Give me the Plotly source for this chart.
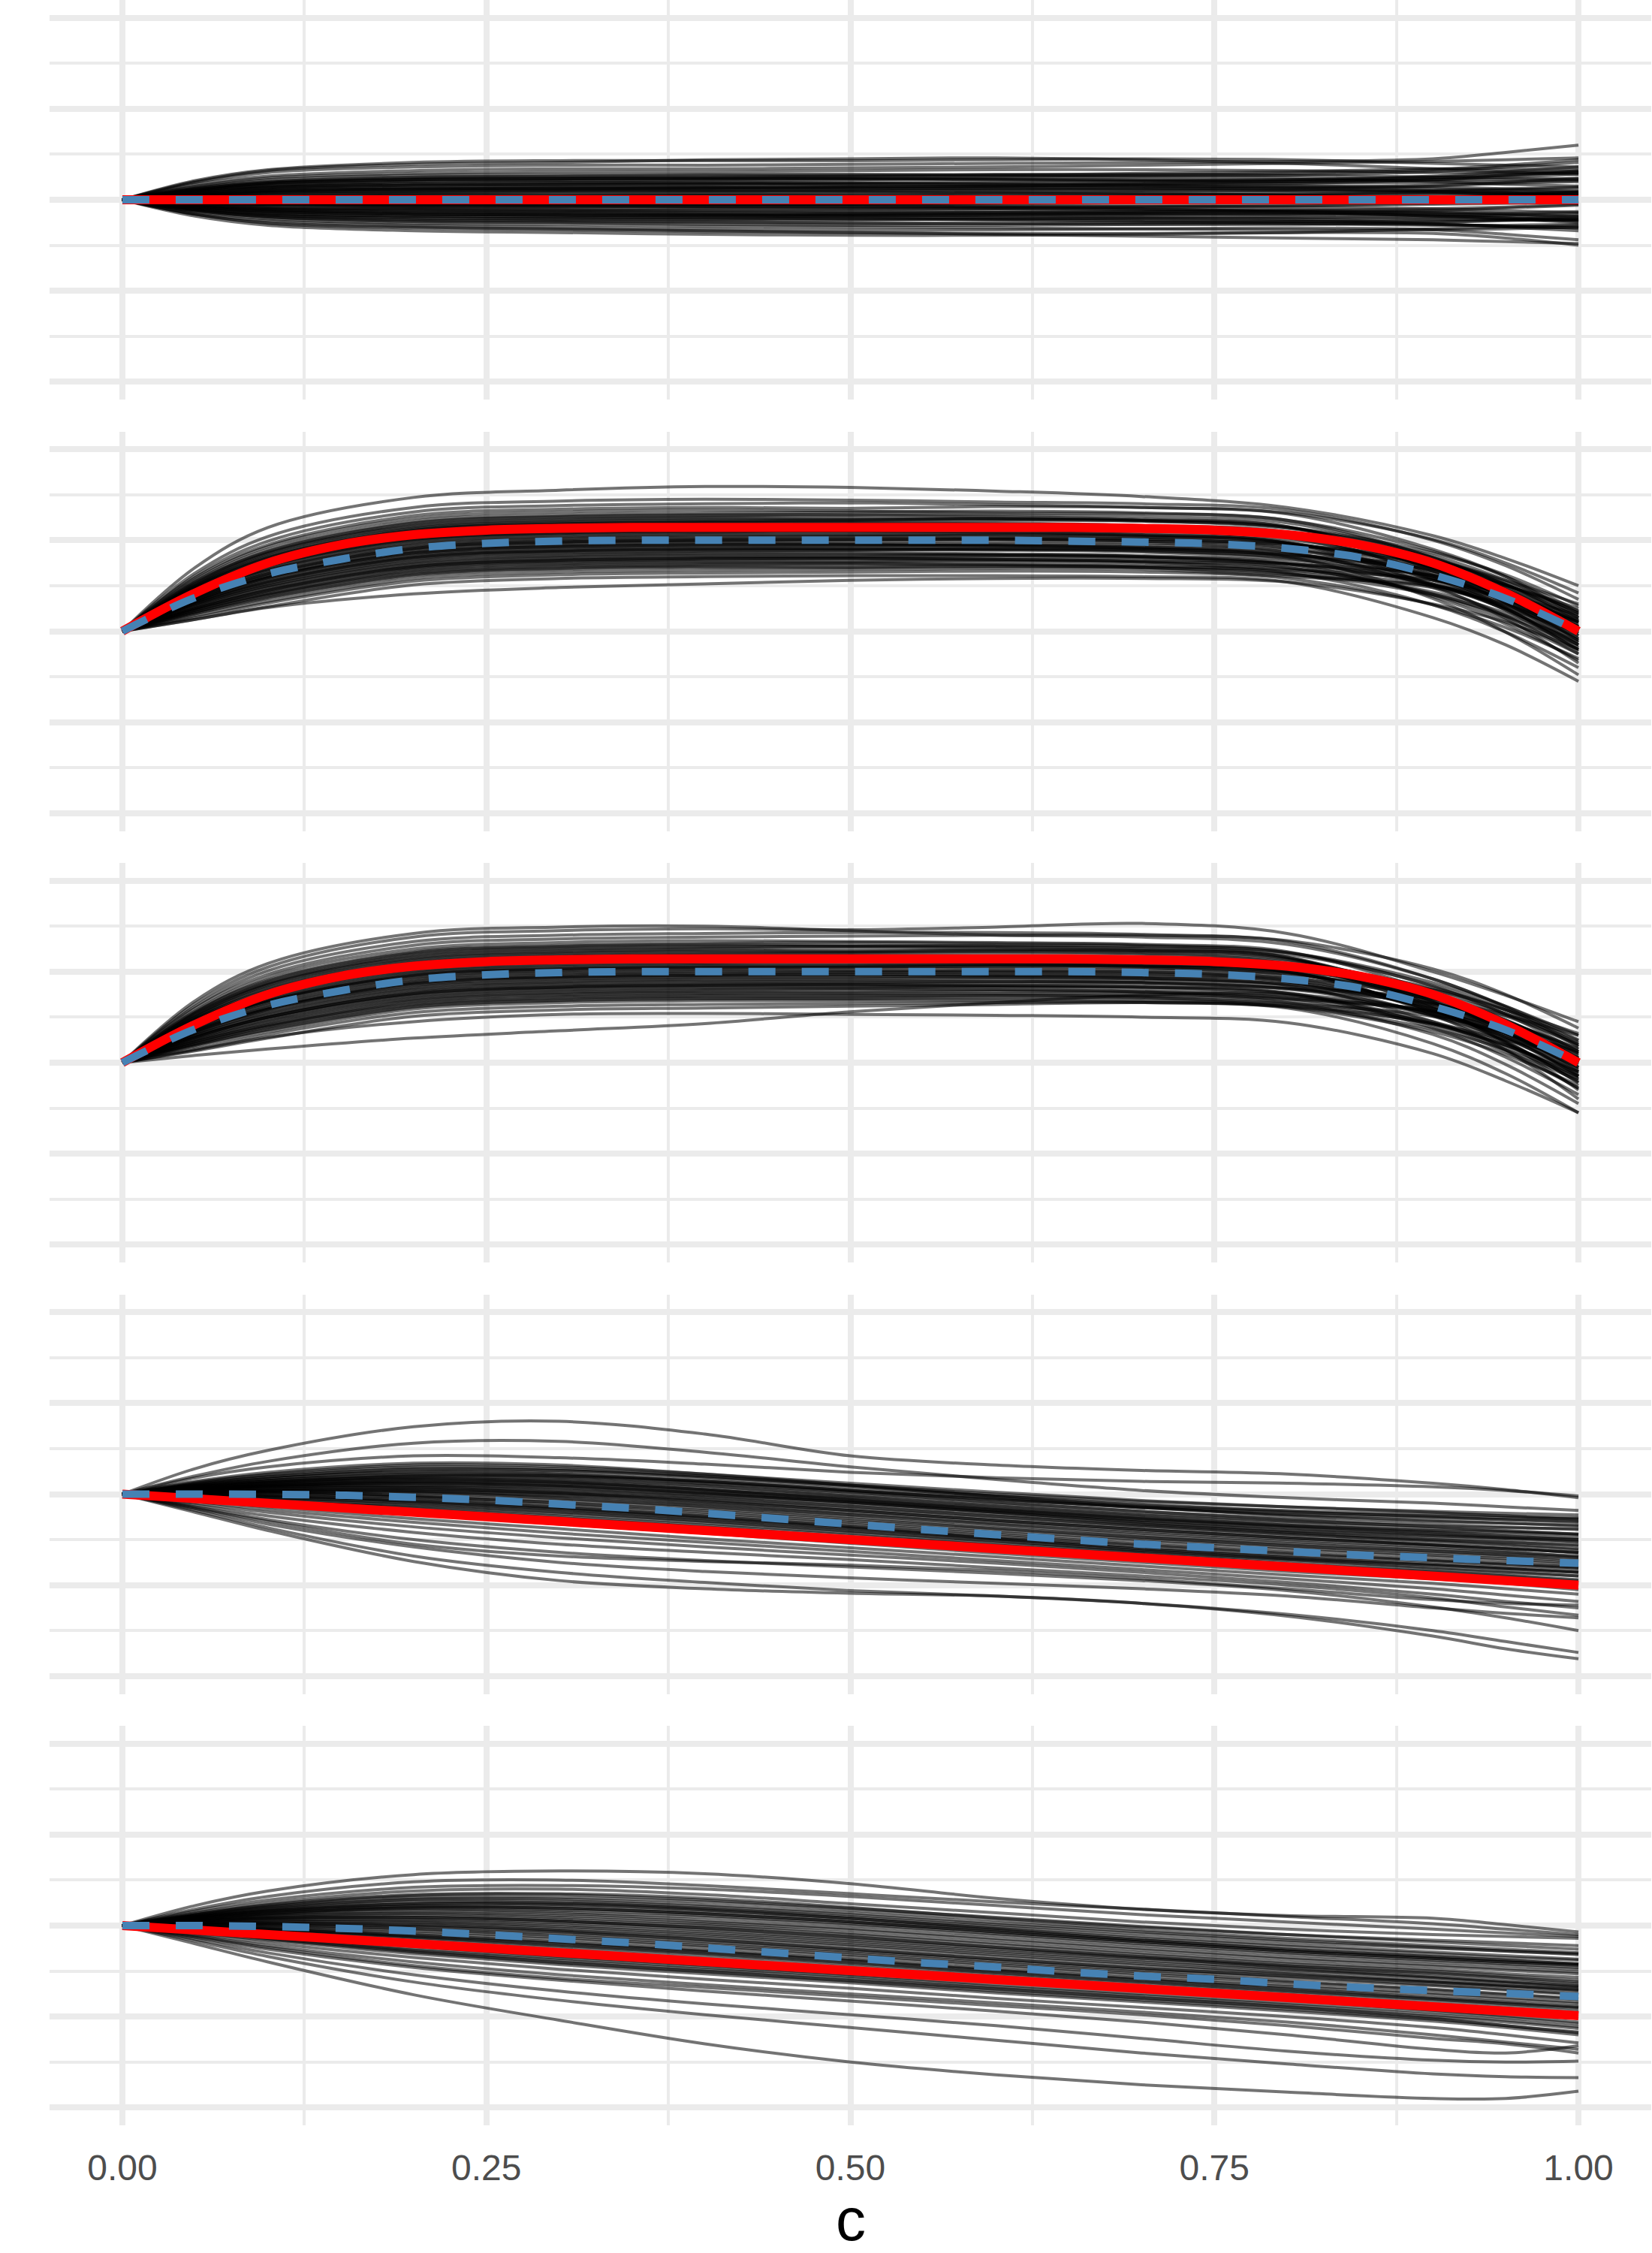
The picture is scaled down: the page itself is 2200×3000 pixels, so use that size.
import plotly.graph_objects as go
from plotly.subplots import make_subplots

# ---------------- data ----------------
X_CURVE = [0, .05, .1, .2, .3, .4, .5, .6, .7, .8, .9, .95, 1]
X_FINE = [0, .05, .1, .15, .2, .25, .3, .35, .4, .45, .5, .55, .6, .65, .7, .75, .8, .85, .9, .95, 1]
X_ENDS = [0, 1]

TICK_VALS = [0, 0.25, 0.5, 0.75, 1]
TICK_TEXT = ["0.00", "0.25", "0.50", "0.75", "1.00"]
X_TITLE = "c"

# panel 1
P1_CURVES = [
    [0, .19, .30, .36, .38, .38, .39, .40, .41, .42, .45, .52, .60],
    [0, .21, .33, .41, .43, .43, .43, .44, .45, .44, .40, .38, .36],
    [0, .17, .26, .32, .34, .34, .35, .36, .38, .40, .42, .44, .46],
    [0, .15, .24, .29, .31, .31, .32, .33, .33, .32, .30, .30, .31],
    [0, .14, .22, .27, .28, .28, .28, .27, .26, .27, .31, .36, .41],
    [0, .12, .19, .24, .25, .25, .26, .27, .29, .31, .34, .34, .33],
    [0, .11, .18, .22, .23, .23, .23, .22, .21, .20, .22, .25, .28],
    [0, .10, .16, .20, .21, .21, .22, .24, .25, .24, .20, .17, .15],
    [0, .09, .15, .18, .19, .19, .19, .18, .17, .18, .22, .27, .32],
    [0, .08, .13, .16, .17, .17, .18, .19, .20, .21, .22, .22, .22],
    [0, .07, .12, .14, .15, .15, .15, .14, .14, .15, .14, .12, .10],
    [0, .06, .10, .12, .13, .13, .14, .15, .16, .15, .12, .10, .08],
    [0, .05, .08, .10, .11, .11, .11, .10, .10, .11, .15, .19, .24],
    [0, .04, .07, .08, .09, .09, .10, .11, .11, .10, .08, .06, .05],
    [0, .03, .05, .06, .06, .06, .06, .07, .08, .09, .10, .12, .14],
    [0, .02, .03, .04, .04, .05, .05, .04, .03, .02, .01, .00, -.02],
    [0, .01, .02, .02, .02, .02, .02, .03, .04, .05, .07, .08, .09],
    [0, -.01, -.02, -.02, -.02, -.02, -.03, -.03, -.02, -.01, .02, .05, .08],
    [0, -.02, -.04, -.05, -.05, -.05, -.05, -.06, -.07, -.08, -.10, -.12, -.14],
    [0, -.04, -.06, -.08, -.08, -.08, -.09, -.09, -.08, -.07, -.05, -.04, -.03],
    [0, -.05, -.09, -.10, -.11, -.12, -.12, -.12, -.13, -.14, -.17, -.20, -.24],
    [0, -.06, -.10, -.12, -.13, -.14, -.15, -.16, -.16, -.15, -.12, -.09, -.06],
    [0, -.07, -.12, -.14, -.15, -.16, -.17, -.17, -.18, -.19, -.21, -.22, -.22],
    [0, -.08, -.13, -.16, -.17, -.18, -.18, -.17, -.16, -.16, -.18, -.21, -.25],
    [0, -.09, -.15, -.18, -.19, -.20, -.21, -.22, -.23, -.24, -.24, -.23, -.21],
    [0, -.10, -.16, -.20, -.21, -.22, -.22, -.21, -.20, -.21, -.26, -.30, -.34],
    [0, -.11, -.18, -.22, -.23, -.24, -.25, -.26, -.27, -.27, -.25, -.22, -.18],
    [0, -.12, -.19, -.24, -.25, -.27, -.28, -.28, -.27, -.26, -.27, -.29, -.31],
    [0, -.13, -.21, -.26, -.27, -.29, -.30, -.31, -.32, -.33, -.33, -.32, -.30],
    [0, -.15, -.23, -.28, -.30, -.32, -.33, -.33, -.32, -.31, -.33, -.38, -.44],
    [0, -.16, -.26, -.31, -.33, -.35, -.36, -.37, -.37, -.36, -.37, -.42, -.50],
    [0, -.18, -.28, -.34, -.36, -.38, -.39, -.39, -.38, -.36, -.32, -.30, -.28],
    [0, .20, .32, .39, .41, .44, .45, .46, .44, .40, .34, .31, .28],
    [0, -.16, -.25, -.30, -.32, -.34, -.36, -.38, -.40, -.42, -.44, -.46, -.48],
    [0, .11, .18, .22, .23, .24, .25, .26, .27, .29, .33, .38, .44],
    [0, -.03, -.05, -.06, -.06, -.07, -.07, -.08, -.10, -.13, -.18, -.20, -.22],
    [0, .05, .08, .09, .10, .10, .09, .08, .07, .05, .02, .00, -.03],
    [0, -.04, -.06, -.07, -.07, -.06, -.05, -.04, -.03, -.02, -.01, .01, .03],
    [0, .09, .14, .17, .18, .18, .17, .16, .15, .13, .10, .08, .05],
    [0, -.08, -.13, -.16, -.17, -.17, -.16, -.15, -.14, -.12, -.10, -.08, -.05],
]
P1_CORE = [
    [0, .13, .20, .25, .26, .27, .27, .28, .28, .27, .25, .24, .23],
    [0, .10, .16, .20, .21, .22, .23, .22, .21, .22, .25, .28, .30],
    [0, .08, .13, .16, .17, .18, .18, .17, .18, .20, .24, .27, .30],
    [0, .07, .11, .13, .14, .14, .13, .12, .12, .13, .16, .18, .20],
    [0, .05, .09, .11, .12, .12, .12, .13, .13, .12, .09, .07, .05],
    [0, .04, .06, .07, .08, .08, .08, .07, .06, .06, .06, .07, .08],
    [0, .03, .04, .05, .05, .05, .04, .04, .05, .06, .09, .11, .13],
    [0, .01, .01, .01, .01, .00, .00, .00, .01, .01, .00, -.02, -.04],
    [0, -.01, -.02, -.03, -.03, -.03, -.02, -.01, .00, .01, .03, .05, .07],
    [0, -.02, -.04, -.04, -.04, -.05, -.06, -.07, -.07, -.06, -.04, -.03, -.02],
    [0, -.03, -.05, -.06, -.07, -.08, -.08, -.09, -.10, -.11, -.13, -.15, -.18],
    [0, -.05, -.08, -.09, -.10, -.10, -.10, -.10, -.11, -.12, -.15, -.18, -.21],
    [0, -.06, -.09, -.11, -.12, -.12, -.13, -.14, -.15, -.16, -.16, -.15, -.13],
    [0, -.07, -.11, -.13, -.14, -.15, -.15, -.14, -.13, -.13, -.14, -.16, -.19],
    [0, -.08, -.12, -.15, -.16, -.17, -.18, -.19, -.20, -.20, -.19, -.17, -.15],
    [0, -.10, -.15, -.18, -.19, -.19, -.19, -.20, -.21, -.23, -.27, -.29, -.31],
    [0, -.11, -.17, -.20, -.21, -.21, -.21, -.22, -.24, -.26, -.28, -.28, -.27],
    [0, .06, .10, .12, .12, .13, .14, .15, .17, .18, .19, .20, .21],
    [0, .12, .19, .23, .24, .24, .24, .23, .22, .22, .26, .31, .36],
    [0, -.12, -.19, -.23, -.24, -.25, -.26, -.26, -.25, -.24, -.22, -.22, -.22],
]
P1_RED = [0, 0]
P1_BLUE = [0, 0]

# panel 2
P2_CURVES = [
    [0, .70, 1.14, 1.47, 1.55, 1.59, 1.58, 1.54, 1.48, 1.36, 1.05, .80, .50],
    [0, .64, 1.04, 1.36, 1.43, 1.45, 1.44, 1.42, 1.40, 1.33, 1.00, .72, .35],
    [0, .61, .99, 1.31, 1.38, 1.40, 1.41, 1.39, 1.36, 1.29, .90, .60, .15],
    [0, .59, .95, 1.27, 1.34, 1.36, 1.35, 1.37, 1.36, 1.30, 1.01, .75, .42],
    [0, .57, .93, 1.24, 1.31, 1.33, 1.32, 1.30, 1.29, 1.22, .81, .48, .05],
    [0, .55, .90, 1.21, 1.28, 1.30, 1.31, 1.32, 1.30, 1.22, .88, .60, .22],
    [0, .53, .87, 1.18, 1.25, 1.27, 1.28, 1.26, 1.23, 1.15, .70, .36, -.10],
    [0, .51, .85, 1.15, 1.22, 1.24, 1.23, 1.24, 1.22, 1.14, .80, .52, .12],
    [0, .50, .82, 1.12, 1.19, 1.21, 1.22, 1.22, 1.21, 1.14, .86, .62, .28],
    [0, .48, .79, 1.09, 1.16, 1.18, 1.18, 1.17, 1.15, 1.08, .69, .37, -.05],
    [0, .46, .77, 1.06, 1.13, 1.15, 1.16, 1.16, 1.14, 1.06, .74, .46, .08],
    [0, .44, .74, 1.03, 1.10, 1.12, 1.11, 1.12, 1.11, 1.04, .78, .54, .20],
    [0, .42, .71, 1.00, 1.07, 1.09, 1.10, 1.09, 1.06, .98, .58, .25, -.18],
    [0, .41, .68, .97, 1.04, 1.06, 1.06, 1.07, 1.05, .97, .66, .38, .02],
    [0, .39, .66, .94, 1.01, 1.03, 1.04, 1.03, 1.01, .95, .71, .47, .14],
    [0, .37, .63, .91, .98, 1.00, 1.00, 1.01, .99, .91, .58, .30, -.08],
    [0, .35, .60, .88, .95, .97, .96, .96, .95, .87, .48, .17, -.25],
    [0, .33, .58, .85, .92, .94, .94, .95, .93, .85, .62, .35, .05],
    [0, .32, .55, .82, .89, .91, .91, .90, .88, .80, .51, .24, -.12],
    [0, .30, .52, .79, .86, .88, .89, .89, .87, .79, .61, .40, .10],
    [0, .28, .50, .76, .83, .85, .85, .84, .82, .74, .38, .08, -.32],
    [0, .26, .47, .73, .80, .82, .82, .83, .81, .73, .52, .26, -.02],
    [0, .24, .44, .70, .77, .79, .80, .79, .77, .70, .41, .16, -.20],
    [0, .23, .41, .67, .74, .76, .76, .77, .75, .67, .50, .30, .00],
    [0, .21, .39, .64, .71, .73, .74, .73, .71, .64, .29, -.01, -.40],
    [0, .19, .36, .61, .68, .70, .70, .71, .70, .63, .40, .17, -.15],
    [0, .17, .33, .58, .65, .67, .68, .69, .68, .60, .50, .35, .10],
    [0, .15, .31, .55, .62, .64, .65, .66, .65, .58, .29, .04, -.30],
    [0, .13, .27, .51, .58, .60, .61, .61, .60, .54, .15, -.15, -.55],
    [0, .13, .26, .41, .48, .52, .56, .58, .58, .54, .30, .10, -.20],
    [0, .43, .72, 1.01, 1.08, 1.10, 1.10, 1.09, 1.06, .97, .50, .14, -.35],
    [0, .31, .54, .81, .88, .90, .90, .91, .90, .84, .70, .50, .25],
    [0, .49, .81, 1.11, 1.18, 1.20, 1.20, 1.19, 1.16, 1.07, .61, .26, -.22],
    [0, .25, .45, .71, .78, .80, .80, .81, .80, .74, .61, .40, .18],
    [0, .37, .63, .91, .98, 1.00, 1.01, 1.02, 1.01, .95, .78, .56, .30],
    [0, .34, .59, .86, .93, .95, .95, .94, .91, .82, .36, -.01, -.48],
]
P2_CORE = [
    [0, .54, .88, 1.19, 1.26, 1.28, 1.28, 1.28, 1.26, 1.19, .81, .51, .10],
    [0, .52, .86, 1.16, 1.23, 1.25, 1.25, 1.24, 1.22, 1.15, .67, .31, -.15],
    [0, .50, .83, 1.13, 1.20, 1.22, 1.22, 1.23, 1.21, 1.13, .83, .56, .20],
    [0, .48, .80, 1.10, 1.17, 1.19, 1.19, 1.18, 1.16, 1.09, .71, .40, -.02],
    [0, .47, .77, 1.07, 1.14, 1.16, 1.17, 1.17, 1.15, 1.07, .78, .51, .15],
    [0, .45, .75, 1.04, 1.11, 1.13, 1.13, 1.12, 1.10, 1.03, .64, .32, -.10],
    [0, .43, .72, 1.01, 1.08, 1.10, 1.10, 1.11, 1.09, 1.01, .70, .42, .05],
    [0, .41, .69, .98, 1.05, 1.07, 1.07, 1.06, 1.04, .97, .56, .23, -.20],
    [0, .39, .67, .95, 1.02, 1.04, 1.04, 1.05, 1.03, .96, .73, .51, .18],
    [0, .38, .64, .92, .99, 1.01, 1.01, 1.01, .99, .92, .60, .33, -.05],
    [0, .36, .61, .89, .96, .98, .98, .99, .97, .89, .66, .43, .10],
    [0, .34, .59, .86, .93, .95, .95, .94, .92, .86, .52, .24, -.15],
    [0, .32, .56, .83, .90, .92, .92, .93, .91, .83, .58, .34, .00],
    [0, .30, .53, .80, .87, .89, .89, .90, .89, .82, .68, .50, .22],
    [0, .29, .50, .77, .84, .86, .86, .85, .83, .76, .51, .27, -.08],
    [0, .27, .48, .74, .81, .83, .83, .84, .82, .74, .56, .36, .06],
    [0, .25, .45, .71, .78, .80, .80, .79, .77, .70, .40, .12, -.25],
    [0, .23, .42, .68, .75, .77, .77, .78, .76, .68, .56, .39, .12],
    [0, .21, .40, .65, .72, .74, .74, .74, .72, .65, .43, .20, -.12],
    [0, .20, .37, .62, .69, .71, .71, .72, .70, .62, .48, .29, .00],
]
P2_RED = [0, .42, .75, .95, 1.06, 1.11, 1.13, 1.14, 1.14, 1.14, 1.14, 1.14, 1.14, 1.14, 1.13, 1.11, 1.06, .95, .75, .42, 0]
P2_BLUE = [0, .37, .63, .79, .91, .965, .99, 1.0, 1.0, 1.0, 1.0, 1.0, 1.0, .99, .98, .96, .91, .81, .62, .36, 0]

# panel 3
P3_CURVES = [
    [0, .65, 1.05, 1.38, 1.45, 1.47, 1.46, 1.49, 1.53, 1.42, 1.00, .74, .45],
    [0, .68, 1.09, 1.42, 1.49, 1.50, 1.45, 1.40, 1.38, 1.30, .92, .62, .30],
    [0, .62, 1.01, 1.33, 1.40, 1.42, 1.43, 1.43, 1.41, 1.33, .92, .61, .20],
    [0, .60, .97, 1.29, 1.36, 1.38, 1.39, 1.40, 1.40, 1.34, 1.03, .75, .38],
    [0, .57, .94, 1.25, 1.32, 1.34, 1.33, 1.32, 1.30, 1.22, .77, .42, -.05],
    [0, .56, .91, 1.22, 1.29, 1.31, 1.32, 1.31, 1.29, 1.21, .84, .53, .12],
    [0, .54, .88, 1.19, 1.26, 1.28, 1.28, 1.29, 1.28, 1.21, .88, .62, .25],
    [0, .52, .86, 1.16, 1.23, 1.25, 1.26, 1.25, 1.23, 1.15, .67, .32, -.15],
    [0, .50, .83, 1.13, 1.20, 1.22, 1.22, 1.23, 1.22, 1.14, .75, .45, .05],
    [0, .48, .80, 1.10, 1.17, 1.19, 1.20, 1.20, 1.19, 1.11, .80, .54, .18],
    [0, .47, .77, 1.07, 1.14, 1.16, 1.16, 1.16, 1.14, 1.06, .66, .35, -.08],
    [0, .45, .75, 1.04, 1.11, 1.13, 1.13, 1.14, 1.12, 1.04, .73, .47, .10],
    [0, .43, .72, 1.01, 1.08, 1.10, 1.11, 1.10, 1.08, 1.00, .56, .23, -.22],
    [0, .41, .69, .98, 1.05, 1.07, 1.07, 1.08, 1.06, .99, .66, .38, .00],
    [0, .39, .67, .95, 1.02, 1.04, 1.05, 1.05, 1.04, .97, .75, .54, .22],
    [0, .38, .64, .92, .99, 1.01, 1.01, 1.00, .99, .92, .57, .28, -.12],
    [0, .36, .61, .89, .96, .98, .99, .99, .98, .91, .64, .40, .06],
    [0, .34, .59, .86, .93, .95, .95, .94, .93, .85, .45, .14, -.28],
    [0, .32, .56, .83, .90, .92, .92, .93, .92, .86, .65, .45, .15],
    [0, .30, .53, .80, .87, .89, .89, .89, .88, .81, .54, .28, -.05],
    [0, .29, .50, .77, .84, .86, .86, .85, .84, .76, .38, .06, -.35],
    [0, .27, .48, .74, .81, .83, .83, .84, .83, .76, .55, .30, .02],
    [0, .25, .45, .71, .78, .80, .81, .80, .78, .71, .43, .17, -.18],
    [0, .23, .42, .68, .75, .77, .77, .78, .77, .70, .56, .36, .12],
    [0, .21, .40, .65, .72, .74, .74, .74, .73, .66, .31, -.02, -.45],
    [0, .20, .37, .62, .69, .71, .71, .72, .71, .64, .42, .19, -.10],
    [0, .18, .34, .59, .66, .68, .68, .68, .67, .61, .34, .09, -.25],
    [0, .15, .31, .55, .62, .64, .65, .66, .66, .60, .21, -.12, -.55],
    [0, .13, .27, .51, .58, .60, .62, .64, .66, .62, .43, .25, .05],
    [0, .08, .15, .27, .35, .43, .56, .66, .74, .74, .45, .20, -.15],
    [0, .46, .77, 1.06, 1.13, 1.15, 1.15, 1.14, 1.12, 1.03, .53, .14, -.40],
    [0, .28, .50, .76, .83, .85, .86, .87, .87, .82, .70, .52, .30],
    [0, .55, .90, 1.21, 1.28, 1.30, 1.29, 1.28, 1.25, 1.16, .62, .22, -.30],
    [0, .35, .59, .87, .94, .96, .97, .97, .96, .89, .59, .32, -.02],
    [0, .40, .68, .96, 1.03, 1.05, 1.05, 1.06, 1.06, 1.00, .80, .58, .32],
    [0, .14, .28, .45, .53, .54, .53, .52, .50, .44, .10, -.20, -.55],
]
P3_CORE = [
    [0, .53, .87, 1.18, 1.25, 1.27, 1.28, 1.27, 1.26, 1.19, .85, .58, .18],
    [0, .51, .85, 1.15, 1.22, 1.24, 1.23, 1.24, 1.23, 1.16, .69, .35, -.10],
    [0, .50, .82, 1.12, 1.19, 1.21, 1.21, 1.22, 1.20, 1.13, .76, .47, .08],
    [0, .48, .79, 1.09, 1.16, 1.18, 1.18, 1.17, 1.16, 1.09, .60, .24, -.22],
    [0, .46, .77, 1.06, 1.13, 1.15, 1.16, 1.16, 1.15, 1.07, .82, .58, .24],
    [0, .44, .74, 1.03, 1.10, 1.12, 1.12, 1.13, 1.11, 1.04, .68, .39, .00],
    [0, .42, .71, 1.00, 1.07, 1.09, 1.09, 1.08, 1.07, 1.00, .57, .28, -.14],
    [0, .41, .68, .97, 1.04, 1.06, 1.06, 1.07, 1.05, .98, .71, .46, .12],
    [0, .39, .66, .94, 1.01, 1.03, 1.03, 1.03, 1.02, .95, .60, .32, -.06],
    [0, .37, .63, .91, .98, 1.00, 1.00, 1.01, 1.00, .93, .72, .51, .20],
    [0, .35, .60, .88, .95, .97, .97, .96, .95, .89, .51, .22, -.18],
    [0, .33, .58, .85, .92, .94, .94, .95, .93, .86, .61, .38, .04],
    [0, .32, .55, .82, .89, .91, .91, .91, .90, .83, .52, .26, -.10],
    [0, .30, .52, .79, .86, .88, .88, .89, .88, .81, .64, .44, .15],
    [0, .28, .50, .76, .83, .85, .85, .84, .83, .77, .41, .12, -.28],
    [0, .26, .47, .73, .80, .82, .82, .83, .81, .74, .53, .32, .00],
    [0, .24, .44, .70, .77, .79, .79, .80, .78, .71, .57, .38, .10],
    [0, .23, .41, .67, .74, .76, .76, .76, .75, .68, .43, .19, -.15],
    [0, .21, .39, .64, .71, .73, .73, .74, .72, .65, .51, .33, .05],
    [0, .19, .36, .61, .68, .70, .70, .70, .69, .62, .37, .14, -.20],
]
P3_RED = [0, .42, .75, .95, 1.06, 1.11, 1.13, 1.14, 1.14, 1.14, 1.14, 1.14, 1.14, 1.14, 1.13, 1.11, 1.06, .95, .75, .42, 0]
P3_BLUE = [0, .37, .63, .79, .91, .965, .99, 1.0, 1.0, 1.0, 1.0, 1.0, 1.0, 1.0, .99, .97, .92, .82, .62, .36, 0]

# panel 4
P4_CURVES = [
    [0, .28, .48, .74, .80, .66, .42, .32, .26, .22, .12, .05, -.04],
    [0, .20, .36, .56, .58, .46, .30, .16, .04, -.04, -.10, -.14, -.18],
    [0, .18, .30, .42, .40, .33, .24, .18, .14, .12, .08, .04, -.02],
    [0, .14, .24, .34, .32, .22, .10, -.02, -.12, -.18, -.22, -.24, -.26],
    [0, .12, .21, .30, .28, .20, .10, .00, -.08, -.14, -.20, -.24, -.28],
    [0, .11, .19, .27, .26, .19, .09, -.03, -.14, -.24, -.30, -.32, -.34],
    [0, .10, .17, .24, .22, .14, .04, -.06, -.15, -.22, -.26, -.28, -.30],
    [0, .09, .15, .21, .19, .12, .02, -.09, -.19, -.28, -.36, -.40, -.44],
    [0, .08, .13, .18, .16, .09, -.01, -.12, -.22, -.30, -.35, -.37, -.38],
    [0, .07, .12, .16, .13, .05, -.05, -.16, -.26, -.34, -.40, -.42, -.45],
    [0, .06, .10, .13, .10, .02, -.08, -.19, -.29, -.37, -.44, -.48, -.52],
    [0, .05, .08, .10, .07, -.01, -.11, -.22, -.33, -.42, -.50, -.53, -.56],
    [0, .04, .07, .08, .04, -.04, -.14, -.25, -.35, -.44, -.51, -.55, -.60],
    [0, .04, .06, .06, .01, -.08, -.18, -.29, -.39, -.48, -.56, -.60, -.64],
    [0, .03, .04, .03, -.02, -.11, -.22, -.33, -.43, -.52, -.60, -.64, -.68],
    [0, .02, .03, .01, -.05, -.14, -.25, -.37, -.47, -.56, -.63, -.67, -.72],
    [0, .02, .02, -.02, -.09, -.18, -.29, -.40, -.50, -.59, -.67, -.71, -.76],
    [0, .01, .01, -.04, -.12, -.22, -.33, -.44, -.55, -.64, -.72, -.76, -.80],
    [0, .00, -.01, -.07, -.15, -.25, -.36, -.48, -.58, -.67, -.74, -.78, -.82],
    [0, -.01, -.03, -.10, -.19, -.29, -.40, -.51, -.62, -.71, -.78, -.82, -.86],
    [0, -.02, -.05, -.13, -.22, -.32, -.43, -.54, -.64, -.73, -.82, -.86, -.90],
    [0, -.03, -.07, -.16, -.26, -.36, -.47, -.58, -.68, -.77, -.85, -.90, -.95],
    [0, -.04, -.09, -.19, -.29, -.39, -.50, -.61, -.71, -.80, -.89, -.94, -1.00],
    [0, -.05, -.11, -.22, -.33, -.43, -.54, -.65, -.75, -.85, -.93, -.98, -1.05],
    [0, -.07, -.14, -.27, -.38, -.49, -.59, -.69, -.79, -.89, -.98, -1.04, -1.10],
    [0, -.08, -.17, -.31, -.43, -.53, -.63, -.73, -.83, -.93, -1.04, -1.11, -1.18],
    [0, -.10, -.20, -.36, -.48, -.58, -.67, -.76, -.86, -.97, -1.10, -1.18, -1.25],
    [0, -.12, -.24, -.42, -.55, -.64, -.72, -.81, -.90, -1.00, -1.14, -1.24, -1.33],
    [0, -.14, -.28, -.50, -.64, -.73, -.80, -.87, -.95, -1.06, -1.24, -1.36, -1.50],
    [0, -.16, -.33, -.58, -.75, -.85, -.92, -.98, -1.04, -1.12, -1.25, -1.31, -1.36],
    [0, -.18, -.37, -.68, -.86, -.97, -1.06, -1.12, -1.20, -1.32, -1.50, -1.62, -1.74],
    [0, -.20, -.40, -.74, -.95, -1.04, -1.09, -1.12, -1.20, -1.34, -1.56, -1.70, -1.81],
    [0, -.15, -.30, -.55, -.68, -.74, -.78, -.84, -.93, -1.04, -1.16, -1.20, -1.22],
    [0, .05, .09, .12, .08, .00, -.09, -.20, -.31, -.40, -.46, -.48, -.50],
    [0, .08, .14, .20, .20, .14, .04, -.06, -.14, -.20, -.24, -.26, -.27],
    [0, .00, -.02, -.08, -.16, -.26, -.37, -.49, -.60, -.70, -.78, -.82, -.86],
]
P4_CORE = [
    [0, .13, .22, .32, .30, .22, .12, .02, -.07, -.14, -.19, -.21, -.23],
    [0, .11, .19, .28, .26, .18, .08, -.02, -.11, -.19, -.25, -.28, -.31],
    [0, .10, .17, .25, .23, .15, .05, -.05, -.15, -.23, -.29, -.32, -.35],
    [0, .09, .15, .22, .20, .12, .02, -.09, -.19, -.27, -.33, -.36, -.39],
    [0, .08, .13, .19, .17, .09, -.02, -.13, -.23, -.31, -.38, -.41, -.44],
    [0, .07, .12, .17, .14, .06, -.04, -.15, -.25, -.34, -.41, -.45, -.48],
    [0, .06, .10, .14, .11, .03, -.07, -.18, -.28, -.37, -.45, -.49, -.53],
    [0, .05, .09, .12, .09, .01, -.09, -.20, -.31, -.40, -.48, -.52, -.57],
    [0, .05, .08, .09, .05, -.03, -.13, -.24, -.34, -.43, -.52, -.56, -.61],
    [0, .04, .06, .07, .02, -.06, -.16, -.27, -.37, -.46, -.55, -.59, -.65],
    [0, .03, .05, .04, -.01, -.10, -.20, -.31, -.41, -.50, -.58, -.63, -.69],
    [0, .02, .03, .02, -.04, -.13, -.23, -.34, -.45, -.54, -.62, -.66, -.70],
    [0, .02, .02, -.01, -.07, -.16, -.27, -.38, -.48, -.57, -.65, -.69, -.74],
    [0, .01, .00, -.03, -.10, -.20, -.31, -.42, -.52, -.61, -.69, -.73, -.78],
    [0, .00, -.02, -.06, -.14, -.24, -.35, -.46, -.56, -.65, -.73, -.77, -.81],
    [0, -.01, -.04, -.09, -.17, -.27, -.38, -.49, -.60, -.69, -.77, -.81, -.85],
    [0, -.02, -.06, -.12, -.20, -.30, -.41, -.52, -.63, -.72, -.81, -.85, -.90],
    [0, -.03, -.08, -.15, -.24, -.34, -.45, -.56, -.66, -.76, -.85, -.89, -.94],
    [0, .06, .11, .15, .13, .05, -.06, -.17, -.27, -.35, -.42, -.46, -.50],
    [0, .03, .04, .05, .01, -.07, -.18, -.29, -.39, -.48, -.56, -.60, -.64],
]
P4_RED = [0, -1.0]
P4_BLUE = [0, 0, -.003, -.012, -.035, -.065, -.11, -.155, -.21, -.27, -.33, -.39, -.445, -.50, -.55, -.59, -.63, -.67, -.70, -.73, -.76]

# panel 5
P5_CURVES = [
    [0, .22, .38, .56, .60, .57, .46, .30, .18, .11, .08, .01, -.07],
    [0, .18, .32, .48, .50, .44, .35, .26, .18, .10, .02, -.04, -.10],
    [0, .16, .28, .42, .44, .40, .32, .22, .12, .04, -.04, -.08, -.12],
    [0, .14, .25, .38, .40, .34, .24, .14, .04, -.04, -.10, -.12, -.14],
    [0, .13, .23, .34, .35, .30, .20, .08, -.02, -.10, -.16, -.19, -.22],
    [0, .12, .21, .31, .31, .26, .17, .06, -.05, -.14, -.22, -.26, -.30],
    [0, .11, .19, .28, .27, .21, .12, .01, -.09, -.18, -.25, -.28, -.31],
    [0, .10, .17, .24, .23, .17, .08, -.03, -.14, -.23, -.31, -.35, -.38],
    [0, .09, .15, .21, .19, .13, .04, -.07, -.18, -.28, -.36, -.40, -.43],
    [0, .08, .13, .18, .15, .09, .00, -.11, -.22, -.32, -.40, -.44, -.48],
    [0, .07, .11, .14, .11, .04, -.05, -.16, -.27, -.37, -.45, -.49, -.53],
    [0, .06, .09, .11, .07, .00, -.10, -.21, -.32, -.42, -.50, -.55, -.60],
    [0, .05, .07, .07, .03, -.05, -.15, -.26, -.36, -.45, -.53, -.58, -.64],
    [0, .04, .05, .04, -.01, -.09, -.19, -.30, -.40, -.49, -.58, -.63, -.68],
    [0, .03, .03, .01, -.05, -.13, -.23, -.34, -.44, -.53, -.62, -.67, -.72],
    [0, .02, .01, -.03, -.09, -.18, -.28, -.39, -.49, -.58, -.66, -.71, -.76],
    [0, .01, -.01, -.06, -.13, -.22, -.32, -.43, -.53, -.62, -.71, -.76, -.81],
    [0, .00, -.03, -.10, -.18, -.27, -.37, -.48, -.58, -.67, -.76, -.81, -.86],
    [0, -.02, -.05, -.13, -.22, -.31, -.41, -.52, -.62, -.72, -.81, -.86, -.91],
    [0, -.03, -.07, -.17, -.26, -.35, -.45, -.56, -.66, -.76, -.86, -.91, -.96],
    [0, -.04, -.09, -.20, -.30, -.39, -.49, -.60, -.70, -.80, -.90, -.96, -1.02],
    [0, -.05, -.11, -.23, -.34, -.44, -.54, -.65, -.75, -.85, -.95, -1.01, -1.08],
    [0, -.06, -.13, -.27, -.38, -.48, -.58, -.69, -.79, -.89, -1.00, -1.06, -1.13],
    [0, -.08, -.16, -.31, -.43, -.53, -.63, -.74, -.84, -.94, -1.05, -1.12, -1.20],
    [0, -.09, -.19, -.35, -.48, -.59, -.69, -.80, -.90, -1.00, -1.12, -1.20, -1.29],
    [0, -.11, -.22, -.40, -.54, -.65, -.75, -.85, -.95, -1.06, -1.20, -1.28, -1.36],
    [0, -.13, -.26, -.46, -.60, -.72, -.83, -.94, -1.06, -1.20, -1.36, -1.40, -1.32],
    [0, -.15, -.30, -.54, -.72, -.86, -.98, -1.10, -1.24, -1.38, -1.48, -1.50, -1.49],
    [0, -.17, -.34, -.62, -.82, -.98, -1.12, -1.26, -1.40, -1.52, -1.63, -1.66, -1.67],
    [0, -.20, -.40, -.76, -1.04, -1.30, -1.50, -1.64, -1.75, -1.83, -1.90, -1.90, -1.82],
    [0, .09, .16, .24, .24, .18, .08, -.04, -.16, -.26, -.34, -.38, -.42],
    [0, .02, .02, .00, -.06, -.15, -.26, -.37, -.47, -.55, -.62, -.66, -.70],
    [0, -.07, -.14, -.28, -.40, -.50, -.60, -.70, -.80, -.90, -1.02, -1.10, -1.18],
    [0, .05, .08, .09, .05, -.02, -.12, -.24, -.35, -.46, -.56, -.61, -.66],
    [0, -.01, -.04, -.12, -.20, -.29, -.39, -.50, -.60, -.70, -.80, -.85, -.90],
    [0, -.12, -.24, -.44, -.58, -.68, -.78, -.88, -.98, -1.10, -1.24, -1.30, -1.40],
]
P5_CORE = [
    [0, .12, .22, .33, .34, .28, .19, .09, -.01, -.10, -.18, -.22, -.26],
    [0, .11, .20, .29, .29, .23, .14, .03, -.07, -.16, -.24, -.28, -.32],
    [0, .10, .18, .26, .25, .19, .10, -.01, -.12, -.21, -.29, -.33, -.37],
    [0, .09, .16, .22, .21, .15, .06, -.05, -.16, -.26, -.34, -.38, -.42],
    [0, .08, .14, .19, .17, .11, .02, -.09, -.20, -.30, -.38, -.42, -.46],
    [0, .07, .12, .16, .13, .06, -.03, -.14, -.25, -.35, -.43, -.47, -.51],
    [0, .06, .10, .13, .09, .02, -.08, -.19, -.30, -.40, -.48, -.53, -.57],
    [0, .05, .08, .09, .05, -.03, -.13, -.24, -.34, -.44, -.52, -.57, -.62],
    [0, .04, .06, .06, .01, -.07, -.17, -.28, -.38, -.48, -.57, -.62, -.67],
    [0, .03, .04, .03, -.03, -.11, -.21, -.32, -.42, -.52, -.61, -.66, -.71],
    [0, .02, .02, -.01, -.07, -.16, -.26, -.37, -.47, -.56, -.65, -.70, -.75],
    [0, .01, .00, -.04, -.11, -.20, -.30, -.41, -.51, -.61, -.70, -.75, -.80],
    [0, .00, -.02, -.08, -.15, -.24, -.34, -.45, -.55, -.65, -.74, -.79, -.84],
    [0, -.01, -.04, -.11, -.19, -.28, -.38, -.49, -.59, -.69, -.79, -.84, -.89],
    [0, -.02, -.06, -.14, -.23, -.32, -.42, -.53, -.63, -.73, -.83, -.88, -.94],
    [0, -.04, -.08, -.18, -.27, -.37, -.47, -.58, -.68, -.78, -.88, -.94, -1.00],
    [0, -.05, -.10, -.21, -.31, -.41, -.51, -.62, -.72, -.82, -.93, -.99, -1.06],
    [0, -.06, -.12, -.25, -.36, -.46, -.56, -.67, -.77, -.87, -.98, -1.04, -1.11],
    [0, -.07, -.15, -.29, -.41, -.51, -.61, -.72, -.82, -.92, -1.03, -1.10, -1.17],
    [0, .07, .13, .20, .19, .13, .04, -.07, -.18, -.28, -.36, -.40, -.44],
]
P5_RED = [0, -0.99]
P5_BLUE = [0, 0, -.01, -.03, -.06, -.10, -.145, -.19, -.245, -.30, -.355, -.41, -.455, -.51, -.555, -.59, -.64, -.68, -.715, -.745, -.78]

PANELS = [
    (P1_CURVES + P1_CORE, X_ENDS, P1_RED, X_ENDS, P1_BLUE),
    (P2_CURVES + P2_CORE, X_FINE, P2_RED, X_FINE, P2_BLUE),
    (P3_CURVES + P3_CORE, X_FINE, P3_RED, X_FINE, P3_BLUE),
    (P4_CURVES + P4_CORE, X_ENDS, P4_RED, X_FINE, P4_BLUE),
    (P5_CURVES + P5_CORE, X_ENDS, P5_RED, X_FINE, P5_BLUE),
]

# ---------------- figure ----------------
W, H = 2200, 3000
M_L, M_R, M_T, M_B = 66, 1, 0, 170
PLOT_H = H - M_T - M_B
GAP_PX = 42.5

fig = make_subplots(rows=5, cols=1, vertical_spacing=GAP_PX / PLOT_H)

GRID = "#EBEBEB"
FONT = "Liberation Sans, Arial, sans-serif"
for i, (curves, xr, red, xb, blue) in enumerate(PANELS, start=1):
    for c in curves:
        fig.add_trace(go.Scatter(x=X_CURVE, y=c, mode="lines",
                                 line=dict(color="rgba(0,0,0,0.55)", width=4, shape="spline"),
                                 hoverinfo="skip", showlegend=False), row=i, col=1)
    fig.add_trace(go.Scatter(x=xr, y=red, mode="lines",
                             line=dict(color="#FF0000", width=12, shape="spline"),
                             hoverinfo="skip", showlegend=False), row=i, col=1)
    fig.add_trace(go.Scatter(x=xb, y=blue, mode="lines",
                             line=dict(color="#4682B4", width=10, dash="36px,35px", shape="spline"),
                             hoverinfo="skip", showlegend=False), row=i, col=1)

    fig.update_xaxes(row=i, col=1, range=[-0.05, 1.05], tickvals=TICK_VALS, ticktext=TICK_TEXT,
                     showticklabels=(i == 5), showgrid=True, gridcolor=GRID, gridwidth=8,
                     zeroline=False, showline=False, ticks="",
                     minor=dict(tickvals=[0.125, 0.375, 0.625, 0.875], showgrid=True,
                                gridcolor=GRID, gridwidth=4, ticks=""),
                     tickfont=dict(family=FONT, size=48, color="#4D4D4D"),
                     ticklabelstandoff=24)
    fig.update_yaxes(row=i, col=1, range=[-2.195, 2.195], tickvals=[-2, -1, 0, 1, 2],
                     showticklabels=False, showgrid=True, gridcolor=GRID, gridwidth=8,
                     zeroline=False, showline=False, ticks="",
                     minor=dict(tickvals=[-1.5, -0.5, 0.5, 1.5], showgrid=True,
                                gridcolor=GRID, gridwidth=4, ticks=""))

fig.add_annotation(text=X_TITLE, xref="x5", yref="paper", x=0.5, y=0,
                   yanchor="middle", xanchor="center", yshift=-125, showarrow=False,
                   font=dict(family=FONT, size=80, color="#000000"))

fig.update_layout(width=W, height=H, margin=dict(l=M_L, r=M_R, t=M_T, b=M_B),
                  paper_bgcolor="white", plot_bgcolor="white", showlegend=False)

fig.write_html("out.html")
